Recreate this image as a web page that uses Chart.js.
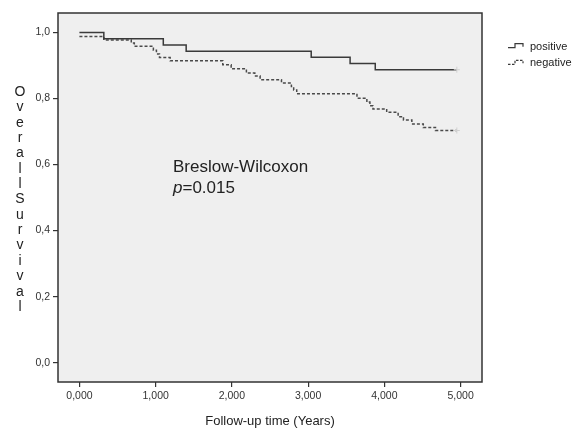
<!DOCTYPE html>
<html>
<head>
<meta charset="utf-8">
<script src="https://cdn.jsdelivr.net/npm/chart.js@4.4.1/dist/chart.umd.min.js"></script>
<style>
  html, body { margin: 0; padding: 0; background: #fff; }
  #wrap { width: 580px; height: 429px; }
</style>
</head>
<body>
<div id="wrap"><canvas id="km"></canvas></div>
<script>
// Kaplan-Meier steps (time in years, survival)
const posTime = [0, 0.32, 1.10, 1.40, 3.04, 3.55, 3.88, 4.95]
const posSurv = [1.0, 0.981, 0.962, 0.943, 0.925, 0.906, 0.887, 0.887]

const negTime = [0, 0.32, 0.68, 0.72, 0.97, 1.01, 1.05, 1.19, 1.88, 1.99, 2.19, 2.30, 2.37,
                 2.65, 2.78, 2.81, 2.85, 3.64, 3.77, 3.81, 3.85, 4.03, 4.18, 4.25, 4.36, 4.51, 4.67, 4.95]
const negSurv = [0.988, 0.977, 0.968, 0.958, 0.946, 0.935, 0.924, 0.914, 0.902, 0.890, 0.877, 0.868, 0.857,
                 0.847, 0.836, 0.826, 0.814, 0.801, 0.789, 0.778, 0.768, 0.758, 0.745, 0.735, 0.723, 0.712, 0.703, 0.703]

const seriesNames = ['positive', 'negative']
const xTicks = [0, 1, 2, 3, 4, 5]
const yTicks = [0, 0.2, 0.4, 0.6, 0.8, 1.0]
const xTitle = 'Follow-up time (Years)'
const yTitle = 'Overall Survival'
const testName = 'Breslow-Wilcoxon'
const pValue = '0.015'

const FONT = '"Liberation Sans", Arial, sans-serif'
const INK = '#3a3a3a'

function points(xs, ys) {
    return xs.map((x, i) => ({x: x, y: ys[i]}))
}

function lastOnly(n) {
    return ctx => ctx.dataIndex === n - 1 ? 3 : 0
}

// plot background, frame, stacked y title, annotation and legend
const decor = {
    id: 'decor',
    beforeDraw(chart) {
        const a = chart.chartArea, c = chart.ctx
        c.save()
        c.fillStyle = '#efefef'
        c.fillRect(a.left, a.top, a.right - a.left, a.bottom - a.top)
        c.restore()
    },
    afterDraw(chart) {
        const a = chart.chartArea, c = chart.ctx
        c.save()
        c.strokeStyle = '#333'
        c.lineWidth = 1.5
        c.strokeRect(a.left, a.top, a.right - a.left, a.bottom - a.top)

        // y title: one letter per line, upright
        c.fillStyle = '#222'
        c.font = '14px ' + FONT
        c.textAlign = 'center'
        c.textBaseline = 'middle'
        const letters = yTitle.replace(' ', '').split('')
        letters.forEach((ch, i) => c.fillText(ch, 20, 92 + i * 15.36))

        // test annotation
        c.textAlign = 'left'
        c.font = '17px ' + FONT
        c.fillText(testName, 173, 167)
        c.font = 'italic 17px ' + FONT
        c.fillText('p', 173, 188)
        const pw = c.measureText('p').width
        c.font = '17px ' + FONT
        c.fillText('=' + pValue, 173 + pw, 188)

        // legend with little step symbols
        c.font = '11px ' + FONT
        const rows = [{y: 46.7, dash: []}, {y: 63.3, dash: [2.5, 1.5]}]
        rows.forEach((r, i) => {
            c.strokeStyle = INK
            c.lineWidth = 1.2
            c.setLineDash(r.dash)
            c.beginPath()
            c.moveTo(508, r.y + 1)
            c.lineTo(515, r.y + 1)
            c.lineTo(515, r.y - 3)
            c.lineTo(523, r.y - 3)
            c.lineTo(523, r.y)
            c.stroke()
            c.setLineDash([])
            c.fillStyle = '#222'
            c.fillText(seriesNames[i], 530, r.y)
        })
        c.restore()
    }
}

new Chart(document.getElementById('km'), {
    type: 'line',
    data: {
        datasets: [
            {
                label: seriesNames[0],
                data: points(posTime, posSurv),
                stepped: true,
                borderColor: INK,
                borderWidth: 1.5,
                pointStyle: 'cross',
                pointRadius: lastOnly(posTime.length),
                pointBorderColor: '#d0d0d0',
                pointBorderWidth: 1
            },
            {
                label: seriesNames[1],
                data: points(negTime, negSurv),
                stepped: true,
                borderColor: '#4a4a4a',
                borderWidth: 1.5,
                borderDash: [3, 2],
                pointStyle: 'cross',
                pointRadius: lastOnly(negTime.length),
                pointBorderColor: '#d0d0d0',
                pointBorderWidth: 1
            }
        ]
    },
    options: {
        responsive: true,
        maintainAspectRatio: false,
        animation: false,
        layout: { padding: { top: 13, right: 98, bottom: 0, left: 0 } },
        plugins: {
            legend: { display: false },
            tooltip: { enabled: false }
        },
        scales: {
            x: {
                type: 'linear',
                min: -0.281,
                max: 5.28,
                afterBuildTicks: s => { s.ticks = xTicks.map(v => ({value: v})) },
                afterFit: s => { s.height = 47 },
                grid: { drawOnChartArea: false, tickLength: 5, color: '#333', lineWidth: 1.2 },
                border: { display: false },
                ticks: {
                    color: '#333',
                    padding: 3,
                    maxRotation: 0,
                    font: { family: FONT, size: 10.5 },
                    callback: v => v.toFixed(3).replace('.', ',')
                },
                title: {
                    display: true,
                    text: xTitle,
                    color: '#222',
                    font: { family: FONT, size: 13 },
                    padding: { top: 0, bottom: 0 }
                }
            },
            y: {
                type: 'linear',
                min: -0.0585,
                max: 1.0588,
                afterBuildTicks: s => { s.ticks = yTicks.map(v => ({value: v})) },
                afterFit: s => { s.width = 58 },
                grid: { drawOnChartArea: false, tickLength: 5, color: '#333', lineWidth: 1.2 },
                border: { display: false },
                ticks: {
                    color: '#333',
                    padding: 3,
                    font: { family: FONT, size: 10.5 },
                    callback: v => v.toFixed(1).replace('.', ',')
                }
            }
        }
    },
    plugins: [decor]
})
</script>
</body>
</html>
